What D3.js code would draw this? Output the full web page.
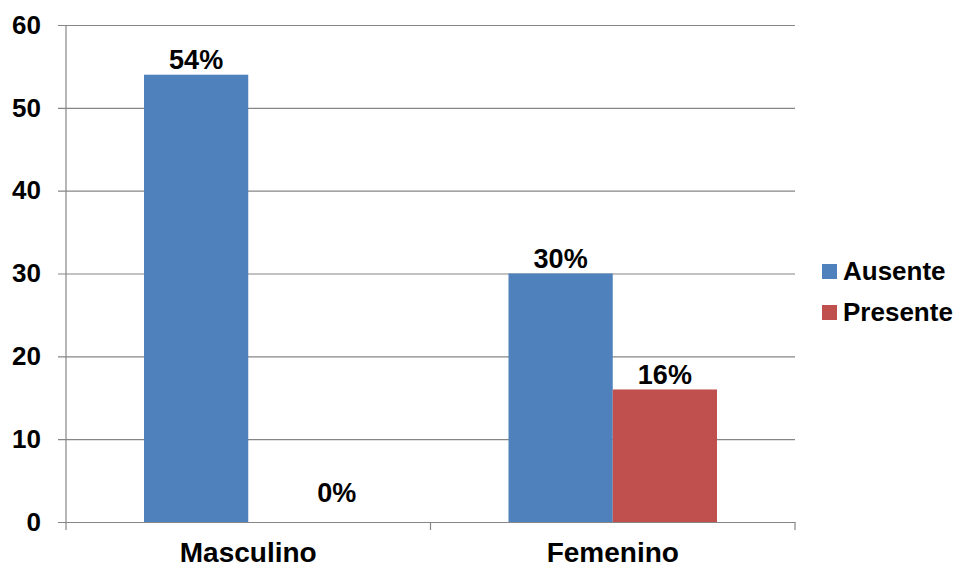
<!DOCTYPE html>
<html>
<head>
<meta charset="utf-8">
<script src="https://cdn.jsdelivr.net/npm/d3@7"></script>
<style>
  html, body { margin: 0; padding: 0; background: #fff; }
  svg { display: block; }
  text { font-family: "Liberation Sans", Arial, sans-serif; font-weight: bold; fill: #000; }
</style>
</head>
<body>
<svg id="chart" width="961" height="568"></svg>
<script>
const categories = ["Masculino", "Femenino"];
const seriesNames = ["Ausente", "Presente"];
const ausente = [54, 30];
const presente = [0, 16];
const valueLabels = [["54%", "0%"], ["30%", "16%"]];
const yTicks = [0, 10, 20, 30, 40, 50, 60];
const colors = ["#4F81BD", "#C0504D"];

const svg = d3.select("#chart");
const mLeft = 66, mRight = 795, mTop = 25, mBottom = 522;

const y = d3.scaleLinear().domain([0, 60]).range([mBottom, mTop]);
const x0 = d3.scaleBand().domain(categories).range([mLeft, mRight])
  .paddingInner(0.428).paddingOuter(0.214);
const x1 = d3.scaleBand().domain(seriesNames).range([0, x0.bandwidth()]).padding(0);

// gridlines
const yAxis = d3.axisLeft(y).tickValues(yTicks).tickSize(-(mRight - mLeft)).tickSizeOuter(0).tickPadding(25);
const gy = svg.append("g").attr("transform", `translate(${mLeft},0)`).call(yAxis);
gy.select(".domain").remove();
gy.selectAll(".tick line").attr("stroke", "#868686").attr("stroke-width", 1.2).attr("x1", -8);
gy.selectAll(".tick text").attr("font-size", 26).attr("font-family", "Liberation Sans, Arial, sans-serif")
  .attr("font-weight", "bold").attr("fill", "#000");

// bars
const data = categories.map((c, i) => ({cat: c, vals: [ausente[i], presente[i]]}));
const groups = svg.append("g").selectAll("g").data(data).join("g")
  .attr("transform", d => `translate(${x0(d.cat)},0)`);
groups.selectAll("rect").data(d => d.vals.map((v, j) => ({s: seriesNames[j], v, j}))).join("rect")
  .attr("x", d => x1(d.s)).attr("width", x1.bandwidth())
  .attr("y", d => y(d.v)).attr("height", d => y(0) - y(d.v))
  .attr("fill", d => colors[d.j]);

// y axis line and x axis
svg.append("line").attr("x1", mLeft).attr("x2", mLeft).attr("y1", mTop).attr("y2", mBottom)
  .attr("stroke", "#868686").attr("stroke-width", 1.2);
const step = x0.step();
const xAxis = d3.axisBottom(x0).tickSize(0).tickPadding(0);
const gx = svg.append("g").attr("transform", `translate(0,${mBottom})`).call(xAxis);
gx.select(".domain").attr("stroke", "#868686").attr("stroke-width", 1.2);
gx.selectAll(".tick text").attr("font-size", 28).attr("font-family", "Liberation Sans, Arial, sans-serif")
  .attr("font-weight", "bold").attr("fill", "#000").attr("dy", 0).attr("y", 40);
// category separators
const seps = d3.range(categories.length + 1).map(i => mLeft + i * step);
svg.append("g").selectAll("line").data(seps).join("line")
  .attr("x1", d => d).attr("x2", d => d).attr("y1", mBottom).attr("y2", mBottom + 8)
  .attr("stroke", "#868686").attr("stroke-width", 1.2);

// data labels
groups.selectAll("text.lbl").data((d, i) => d.vals.map((v, j) => ({s: seriesNames[j], v, label: valueLabels[i][j]})))
  .join("text").attr("class", "lbl")
  .attr("x", d => x1(d.s) + x1.bandwidth() / 2 + (d.v === 0 ? step * 0.1 : 0))
  .attr("y", d => y(d.v) - (d.v === 0 ? 20 : 5.5))
  .attr("text-anchor", "middle").attr("font-size", 27)
  .text(d => d.label);

// legend
const legend = svg.append("g").attr("transform", "translate(822,264)");
const li = legend.selectAll("g").data(seriesNames).join("g")
  .attr("transform", (d, i) => `translate(0,${i * 41})`);
li.append("rect").attr("width", 15).attr("height", 15).attr("fill", (d, i) => colors[i]);
li.append("text").attr("x", 21).attr("y", 16).attr("font-size", 26).text(d => d);
</script>
</body>
</html>
